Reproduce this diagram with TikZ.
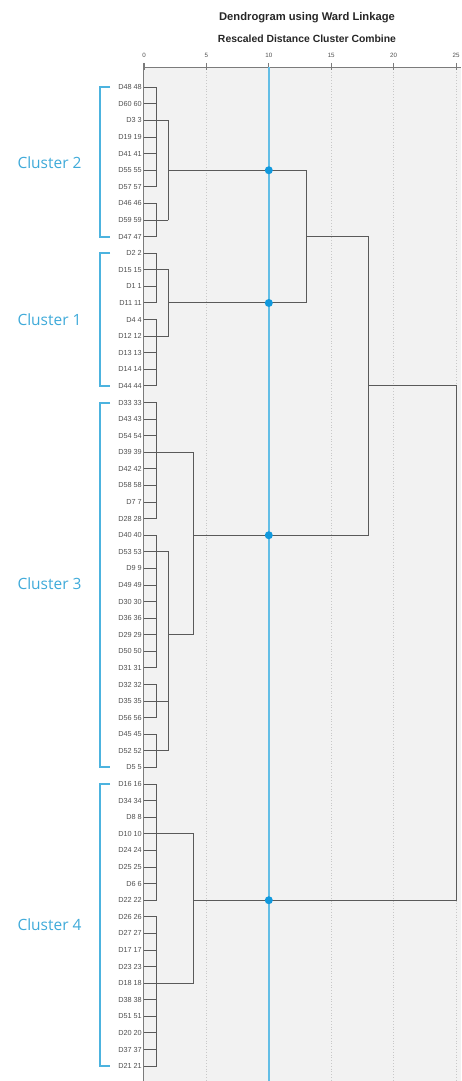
\documentclass[tikz,border=0pt]{standalone}
\usepackage{fontspec}
\setmainfont{Liberation Sans}
\newfontfamily\clfont{Open Sans}
\definecolor{panel}{HTML}{F2F2F2}
\definecolor{dgray}{HTML}{5A5A5A}
\definecolor{lgray}{HTML}{505050}
\definecolor{bline}{HTML}{63BEE6}
\definecolor{bdot}{HTML}{1199DD}
\definecolor{bbr}{HTML}{4CB3DF}
\definecolor{btext}{HTML}{3FAAD9}
\definecolor{gridc}{HTML}{C8C8C8}
\newcommand\vjoin[3]{\draw[dline] (#1,0 |- T#2) -- (#1,0 |- T#3);}
\newcommand\hlink[3]{\draw[dline] (#2,0 |- T#1) -- (#3,0 |- T#1);}
\begin{document}
\begin{tikzpicture}[x=1pt,y=-1pt,
  dline/.style={draw=dgray, line width=0.95pt, line cap=rect},
  leaf/.style={anchor=east, font=\fontsize{7.3}{8}\selectfont, text=lgray, inner sep=0pt},
  ticklab/.style={font=\fontsize{6.2}{7}\selectfont, text=lgray, inner sep=0pt},
  axisline/.style={draw=dgray!80, line width=0.9pt},
  gridline/.style={draw=gridc, line width=0.8pt, dotted},
  blueline/.style={draw=bline, line width=2pt},
  bdotst/.style={circle, fill=bdot, minimum size=8pt, inner sep=0pt},
  bracket/.style={draw=bbr, line width=2pt},
  cluster/.style={font=\clfont\fontsize{15.5}{17}\selectfont, text=btext, inner sep=0pt},
  titlest/.style={font=\bfseries\fontsize{11.2}{13}\selectfont, text=black!85, inner sep=0pt},
  subst/.style={font=\bfseries\fontsize{10.4}{12}\selectfont, text=black!85, inner sep=0pt}]
\useasboundingbox (0,0) rectangle (461,1081);
\fill[panel] (143,67) rectangle (461,1081);
% grid
\foreach \d in {5,15,20,25} {
  \draw[gridline] ({144+12.48*\d},69) -- ({144+12.48*\d},1081);
}
% axis
\draw[axisline] (143,67) -- (461,67);
\draw[axisline] (143,63) -- (143,1081);
\foreach \d in {0,5,10,15,20,25} {
  \draw[axisline] ({144+12.48*\d},63) -- ({144+12.48*\d},70);
  \node[ticklab] (tk\d) at ({144+12.48*\d},55) {\d};
}
\node[titlest] (title) at (307,18) {Dendrogram using Ward Linkage};
\node[subst] (subtitle) at (307,39) {Rescaled Distance Cluster Combine};
% leaves
\foreach \lab [count=\i from 0] in {D48 48,D60 60,D3 3,D19 19,D41 41,D55 55,D57 57,D46 46,D59 59,D47 47,
  D2 2,D15 15,D1 1,D11 11,D4 4,D12 12,D13 13,D14 14,D44 44,
  D33 33,D43 43,D54 54,D39 39,D42 42,D58 58,D7 7,D28 28,D40 40,D53 53,D9 9,D49 49,D30 30,D36 36,D29 29,D50 50,D31 31,D32 32,D35 35,D56 56,D45 45,D52 52,D5 5,
  D16 16,D34 34,D8 8,D10 10,D24 24,D25 25,D6 6,D22 22,D26 26,D27 27,D17 17,D23 23,D18 18,D38 38,D51 51,D20 20,D37 37,D21 21} {
  \pgfmathsetmacro\yy{87.3+16.59*\i}
  \node[leaf] (L\i) at (142,\yy) {\lab};
  \coordinate (T\i) at (144,\yy);
  \draw[dline] (T\i) -- ++(12,0);
}
% first level joins at x=156
\vjoin{156}{0}{6} \vjoin{156}{7}{9} \vjoin{156}{10}{13} \vjoin{156}{14}{18}
\vjoin{156}{19}{26} \vjoin{156}{27}{35} \vjoin{156}{36}{38} \vjoin{156}{39}{41}
\vjoin{156}{42}{49} \vjoin{156}{50}{59}
\hlink{2}{156}{168} \hlink{8}{156}{168} \hlink{11}{156}{168} \hlink{15}{156}{168}
\hlink{28}{156}{168} \hlink{37}{156}{168} \hlink{40}{156}{168}
\hlink{22}{156}{193} \hlink{45}{156}{193} \hlink{54}{156}{193}
% second level
\vjoin{168}{2}{8} \vjoin{168}{11}{15} \vjoin{168}{28}{40}
\hlink{5}{168}{306} \hlink{13}{168}{306} \hlink{33}{168}{193}
\vjoin{193}{22}{33} \vjoin{193}{45}{54}
\hlink{27}{193}{368} \hlink{49}{193}{456}
\vjoin{306}{5}{13} \hlink{9}{306}{368}
\vjoin{368}{9}{27} \hlink{18}{368}{456}
\vjoin{456}{18}{49}
% cut line
\draw[blueline] (268.8,67) -- (268.8,1081);
\node[bdotst] (c2) at (268.8,0 |- T5) {};
\node[bdotst] (c1) at (268.8,0 |- T13) {};
\node[bdotst] (c3) at (268.8,0 |- T27) {};
\node[bdotst] (c4) at (268.8,0 |- T49) {};
% brackets
\draw[bracket] (110,0 |- T0) -- (100,0 |- T0) -- (100,0 |- T9) -- (110,0 |- T9);
\draw[bracket] (110,0 |- T10) -- (100,0 |- T10) -- (100,0 |- T18) -- (110,0 |- T18);
\draw[bracket] (110,0 |- T19) -- (100,0 |- T19) -- (100,0 |- T41) -- (110,0 |- T41);
\draw[bracket] (110,0 |- T42) -- (100,0 |- T42) -- (100,0 |- T59) -- (110,0 |- T59);
\node[cluster] (k2) at (49.5,163) {Cluster 2};
\node[cluster] (k1) at (49.5,320) {Cluster 1};
\node[cluster] (k3) at (49.5,584) {Cluster 3};
\node[cluster] (k4) at (49.5,925) {Cluster 4};
\end{tikzpicture}
\end{document}
